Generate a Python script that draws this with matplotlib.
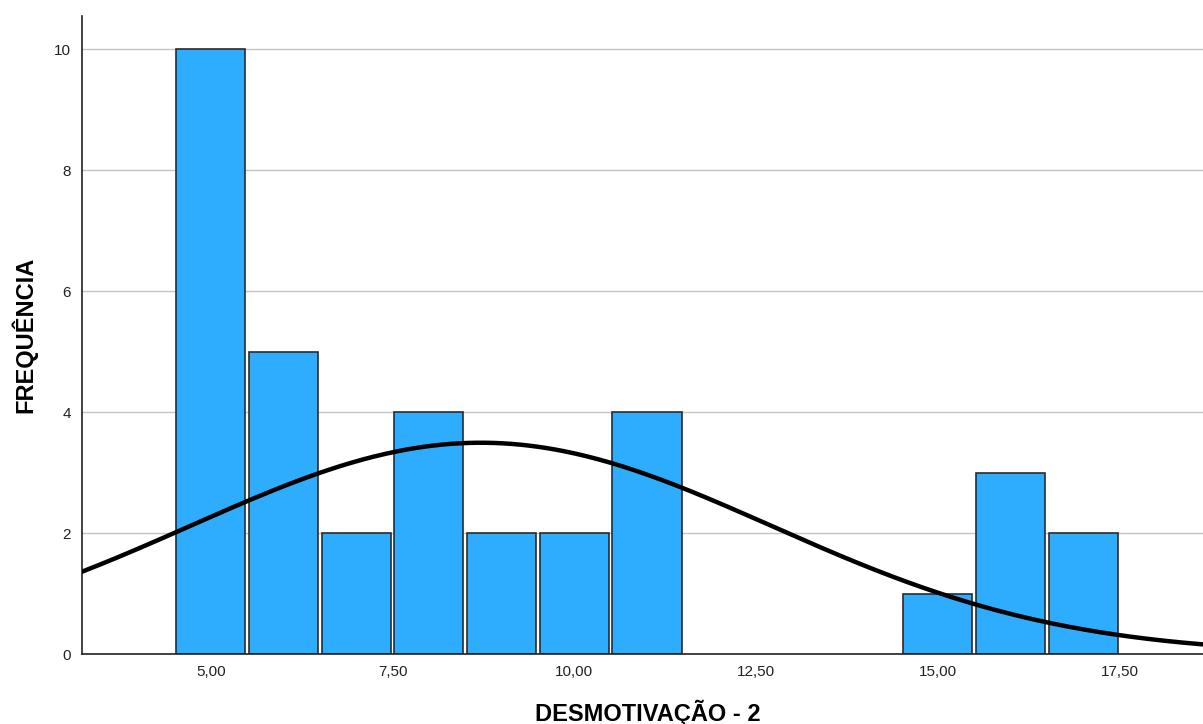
import matplotlib
import numpy as np

matplotlib.use("Agg")

from matplotlib import pyplot as plt  # noqa: E402

# histogram data (bin centres, width 1)
bin_centers = [5, 6, 7, 8, 9, 10, 11, 12, 13, 14, 15, 16, 17]
frequencies = [10, 5, 2, 4, 2, 2, 4, 0, 0, 0, 1, 3, 2]
x_ticks = [5.0, 7.5, 10.0, 12.5, 15.0, 17.5]
y_ticks = [0, 2, 4, 6, 8, 10]

BAR_COLOR = "#2eadfe"
EDGE_COLOR = "#2b2b2b"
GRID_COLOR = "#c4c4c4"

plt.rcParams["font.family"] = ["Liberation Sans", "DejaVu Sans"]

# normal curve fitted to the histogram
centers = np.array(bin_centers, dtype=float)
counts = np.array(frequencies, dtype=float)
n = counts.sum()
mean = (centers * counts).sum() / n
sd = np.sqrt(((centers - mean) ** 2 * counts).sum() / (n - 1))

fig = plt.figure(figsize=(12.03, 7.24), dpi=100)
ax = fig.add_axes([82 / 1203, 70 / 724, 1 - 82 / 1203, 638 / 724])

ax.set_xlim(3.226, 18.65)
ax.set_ylim(0, 10.55)

ax.set_axisbelow(True)
ax.yaxis.grid(True, color=GRID_COLOR, linewidth=1)

mask = counts > 0
ax.bar(
    centers[mask],
    counts[mask],
    width=0.95,
    color=BAR_COLOR,
    edgecolor=EDGE_COLOR,
    linewidth=1.2,
    zorder=2,
)

xs = np.linspace(3.0, 19.0, 400)
ys = n * 1.0 / (sd * np.sqrt(2 * np.pi)) * np.exp(-0.5 * ((xs - mean) / sd) ** 2)
ax.plot(xs, ys, color="black", linewidth=3.2, zorder=3)

ax.set_xticks(x_ticks)
ax.set_xticklabels([f"{v:.2f}".replace(".", ",") for v in x_ticks])
ax.set_yticks(y_ticks)
ax.tick_params(axis="both", length=0, labelsize=11, colors="#222222")
ax.tick_params(axis="x", pad=8)
ax.tick_params(axis="y", pad=8)

for side in ("top", "right"):
    ax.spines[side].set_visible(False)
for side in ("left", "bottom"):
    ax.spines[side].set_color("#222222")
    ax.spines[side].set_linewidth(1.2)

ax.set_xlabel("DESMOTIVAÇÃO - 2", fontsize=17, fontweight="bold", va="center")
ax.set_ylabel("FREQUÊNCIA", fontsize=17, fontweight="bold", va="center")
ax.xaxis.set_label_coords(0.505, -0.0925)
ax.yaxis.set_label_coords(-0.0517, 0.5)

plt.savefig("out.png", dpi=100)
plt.close(fig)
